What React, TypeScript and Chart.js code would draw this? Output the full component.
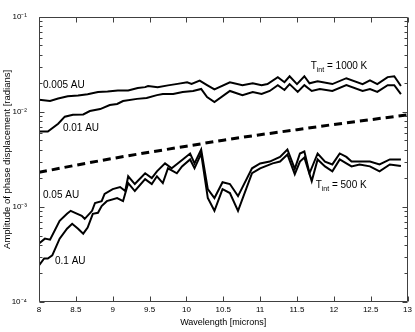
import React, { useEffect, useRef } from 'react';
import { Chart, registerables } from 'chart.js';
Chart.register(...registerables);

// ---- data ----
const lam005 = [8.00, 8.15, 8.26, 8.39, 8.53, 8.66, 8.80, 8.93, 9.07, 9.21, 9.34, 9.44, 9.48, 9.61, 9.75, 9.88, 10.01, 10.07, 10.18, 10.28, 10.38, 10.59, 10.76, 10.90, 11.02, 11.10, 11.24, 11.33, 11.40, 11.50, 11.60, 11.67, 11.78, 11.98, 12.17, 12.39, 12.49, 12.59, 12.73, 12.82, 12.91];
const amp005 = [0.0134, 0.0130, 0.0138, 0.0146, 0.0149, 0.0153, 0.0162, 0.0164, 0.0168, 0.0168, 0.0178, 0.0182, 0.0187, 0.0182, 0.0190, 0.0197, 0.0205, 0.0197, 0.0213, 0.0191, 0.0172, 0.0205, 0.0191, 0.0200, 0.0191, 0.0196, 0.0232, 0.0205, 0.0237, 0.0196, 0.0237, 0.0200, 0.0210, 0.0196, 0.0226, 0.0196, 0.0215, 0.0196, 0.0232, 0.0237, 0.0187];

const lam001 = [8.00, 8.12, 8.26, 8.35, 8.46, 8.60, 8.69, 8.83, 8.96, 9.06, 9.14, 9.33, 9.46, 9.60, 9.68, 9.82, 9.95, 10.09, 10.20, 10.28, 10.38, 10.59, 10.76, 10.90, 11.02, 11.13, 11.24, 11.33, 11.40, 11.51, 11.60, 11.70, 11.81, 11.98, 12.17, 12.39, 12.49, 12.59, 12.73, 12.82, 12.91];
const amp001 = [0.0062, 0.0062, 0.0075, 0.0089, 0.0093, 0.0094, 0.0102, 0.0107, 0.0118, 0.0121, 0.0130, 0.0137, 0.0140, 0.0150, 0.0154, 0.0154, 0.0162, 0.0166, 0.0174, 0.0143, 0.0127, 0.0166, 0.0150, 0.0162, 0.0154, 0.0166, 0.0191, 0.0170, 0.0196, 0.0162, 0.0191, 0.0166, 0.0174, 0.0166, 0.0191, 0.0166, 0.0174, 0.0162, 0.0191, 0.0191, 0.0154];

const lam005b = [8.00, 8.08, 8.15, 8.28, 8.38, 8.43, 8.52, 8.58, 8.62, 8.72, 8.76, 8.85, 8.89, 9.00, 9.10, 9.17, 9.21, 9.30, 9.44, 9.53, 9.60, 9.71, 9.80, 9.95, 10.05, 10.11, 10.20, 10.29, 10.38, 10.49, 10.59, 10.70, 10.89, 11.00, 11.13, 11.27, 11.37, 11.47, 11.54, 11.60, 11.67, 11.78, 11.88, 11.98, 12.08, 12.17, 12.24, 12.35, 12.49, 12.62, 12.76, 12.91];
const amp005b = [0.000412, 0.000464, 0.000453, 0.000715, 0.000846, 0.00091, 0.000846, 0.000806, 0.00075, 0.00091, 0.0011, 0.00115, 0.00137, 0.00154, 0.00162, 0.00147, 0.0021, 0.00174, 0.00226, 0.00201, 0.00237, 0.00287, 0.00255, 0.00316, 0.00365, 0.00287, 0.00402, 0.00154, 0.00124, 0.00182, 0.00174, 0.0013, 0.00255, 0.00287, 0.003, 0.00336, 0.00402, 0.00251, 0.00365, 0.00383, 0.00226, 0.00365, 0.003, 0.0028, 0.00365, 0.00336, 0.003, 0.003, 0.003, 0.0028, 0.00316, 0.00316];

const lam01 = [8.00, 8.07, 8.12, 8.18, 8.28, 8.38, 8.45, 8.53, 8.60, 8.66, 8.73, 8.80, 8.85, 8.92, 9.06, 9.14, 9.21, 9.30, 9.44, 9.53, 9.60, 9.68, 9.75, 9.87, 9.94, 10.05, 10.11, 10.20, 10.29, 10.38, 10.49, 10.59, 10.70, 10.89, 11.00, 11.17, 11.27, 11.37, 11.47, 11.54, 11.60, 11.70, 11.78, 11.88, 11.98, 12.08, 12.17, 12.24, 12.35, 12.49, 12.62, 12.76, 12.91];
const amp01 = [0.000243, 0.000287, 0.000287, 0.000309, 0.000464, 0.00059, 0.000665, 0.00059, 0.000523, 0.000606, 0.000846, 0.000867, 0.00102, 0.00115, 0.00124, 0.00115, 0.00178, 0.00147, 0.00196, 0.00174, 0.0021, 0.00178, 0.00255, 0.00226, 0.00267, 0.00316, 0.00255, 0.00365, 0.00124, 0.00091, 0.00154, 0.0014, 0.00091, 0.00226, 0.00255, 0.00287, 0.003, 0.00356, 0.00221, 0.003, 0.00331, 0.00187, 0.00316, 0.00267, 0.00237, 0.00316, 0.00287, 0.00267, 0.0028, 0.00267, 0.00237, 0.0028, 0.0027];

const lamDash = [8, 8.5, 9, 9.5, 10, 10.5, 11, 11.5, 12, 12.5, 13];
const ampDash = [0.00231, 0.00275, 0.00324, 0.00377, 0.00435, 0.00504, 0.00575, 0.0065, 0.00737, 0.00828, 0.0093];

const xTickValues = [8, 8.5, 9, 9.5, 10, 10.5, 11, 11.5, 12, 12.5, 13];
const yDecades = [1e-4, 1e-3, 1e-2, 1e-1];
const yTickLabels = ['10⁻⁴', '10⁻³', '10⁻²', '10⁻¹'];

const xTitle = 'Wavelength [microns]';
const yTitle = 'Amplitude of phase displacement [radians]';

// text annotations, anchored in data coordinates (left edge, vertical centre)
const curveLabels = [
  { text: '0.005 AU', x: 8.054, y: 0.0189 },
  { text: '0.01 AU', x: 8.325, y: 0.0068 },
  { text: '0.05 AU', x: 8.054, y: 0.00132 },
  { text: '0.1 AU', x: 8.217, y: 0.000267 },
];
const tempLabels = [
  { main: 'T', sub: 'int', rest: ' = 1000 K', x: 11.686, y: 0.0301 },
  { main: 'T', sub: 'int', rest: ' = 500 K', x: 11.753, y: 0.0017 },
];

const FONT = '"Liberation Sans", Arial, Helvetica, sans-serif';

const toPts = (xs: number[], ys: number[]) => xs.map((x, i) => ({ x, y: ys[i] }));

const boxPlugin = {
  id: 'matlabBox',
  afterDatasetsDraw(chart: any) {
    const { ctx, chartArea, scales } = chart;
    const { left, right, top, bottom } = chartArea;
    const xs = scales.x;
    const ys = scales.y;
    ctx.save();
    ctx.strokeStyle = '#404040';
    ctx.lineWidth = 1;
    ctx.beginPath();
    const L = Math.round(left) + 0.5, R = Math.round(right) - 0.5;
    const T = Math.round(top) + 0.5, B = Math.round(bottom) - 0.5;
    ctx.rect(L, T, R - L, B - T);
    for (const v of xTickValues) {
      const p = Math.round(xs.getPixelForValue(v)) + 0.5;
      ctx.moveTo(p, B); ctx.lineTo(p, B - 5);
      ctx.moveTo(p, T); ctx.lineTo(p, T + 5);
    }
    for (const d of yDecades) {
      const p = Math.round(ys.getPixelForValue(d)) + 0.5;
      ctx.moveTo(L, p); ctx.lineTo(L + 5, p);
      ctx.moveTo(R, p); ctx.lineTo(R - 5, p);
      if (d < 0.1) {
        for (let k = 2; k <= 9; k++) {
          const q = Math.round(ys.getPixelForValue(d * k)) + 0.5;
          ctx.moveTo(L, q); ctx.lineTo(L + 3, q);
          ctx.moveTo(R, q); ctx.lineTo(R - 3, q);
        }
      }
    }
    ctx.stroke();

    ctx.fillStyle = '#000';
    ctx.textBaseline = 'middle';
    ctx.textAlign = 'left';
    ctx.font = `10px ${FONT}`;
    for (const lb of curveLabels) {
      ctx.fillText(lb.text, xs.getPixelForValue(lb.x), ys.getPixelForValue(lb.y));
    }
    for (const lb of tempLabels) {
      let px = xs.getPixelForValue(lb.x);
      const py = ys.getPixelForValue(lb.y);
      ctx.font = `10px ${FONT}`;
      ctx.fillText(lb.main, px, py);
      px += ctx.measureText(lb.main).width;
      ctx.font = `7px ${FONT}`;
      ctx.fillText(lb.sub, px, py + 4);
      px += ctx.measureText(lb.sub).width;
      ctx.font = `10px ${FONT}`;
      ctx.fillText(lb.rest, px, py);
    }
    ctx.restore();
  },
};

export default function App() {
  const ref = useRef<HTMLCanvasElement | null>(null);
  useEffect(() => {
    if (!ref.current) return;
    const line = (xs: number[], ys: number[]) => ({
      data: toPts(xs, ys),
      borderColor: '#000',
      borderWidth: 2,
      pointRadius: 0,
      tension: 0,
      fill: false,
    });
    const chart = new Chart(ref.current, {
      type: 'line',
      data: {
        datasets: [
          { label: '0.005 AU', ...line(lam005, amp005) },
          { label: '0.01 AU', ...line(lam001, amp001) },
          { label: '0.05 AU', ...line(lam005b, amp005b) },
          { label: '0.1 AU', ...line(lam01, amp01) },
          { label: 'dashed', ...line(lamDash, ampDash), borderWidth: 3, borderDash: [8, 5] },
        ] as any,
      },
      options: {
        animation: false,
        responsive: false,
        layout: { padding: { top: 14, right: 7, left: 0, bottom: 0 } },
        plugins: { legend: { display: false }, tooltip: { enabled: false } },
        scales: {
          x: {
            type: 'linear',
            min: 8,
            max: 13,
            afterBuildTicks: (s: any) => { s.ticks = xTickValues.map((v) => ({ value: v })); },
            afterFit: (s: any) => { s.height = 30; },
            ticks: {
              autoSkip: false,
              maxRotation: 0,
              padding: 3,
              color: '#000',
              font: { family: FONT, size: 8 },
              callback: (v: any) => String(v),
            },
            grid: { display: false, drawTicks: false },
            border: { display: false },
            title: { display: true, text: xTitle, color: '#000', font: { family: FONT, size: 9 }, padding: { top: 0, bottom: 4 } },
          },
          y: {
            type: 'logarithmic',
            min: 1e-4,
            max: 1e-1,
            afterBuildTicks: (s: any) => { s.ticks = yDecades.map((v) => ({ value: v })); },
            afterFit: (s: any) => { s.width = 39; },
            ticks: {
              autoSkip: false,
              padding: 12,
              color: '#000',
              font: { family: FONT, size: 8 },
              callback: (v: any) => {
                const i = yDecades.findIndex((d) => Math.abs(Math.log10(d) - Math.log10(Number(v))) < 1e-6);
                return i >= 0 ? yTickLabels[i] : '';
              },
            },
            grid: { display: false, drawTicks: false },
            border: { display: false },
            title: { display: true, text: yTitle, color: '#000', font: { family: FONT, size: 9.5 }, padding: { top: 2, bottom: 0 } },
          },
        },
      } as any,
      plugins: [boxPlugin],
    });
    return () => chart.destroy();
  }, []);
  return (
    <div style={{ position: 'fixed', left: 0, top: 0, width: 415, height: 332, background: '#fff' }}>
      <canvas ref={ref} width={415} height={332} style={{ width: 415, height: 332, display: 'block' }} />
    </div>
  );
}
